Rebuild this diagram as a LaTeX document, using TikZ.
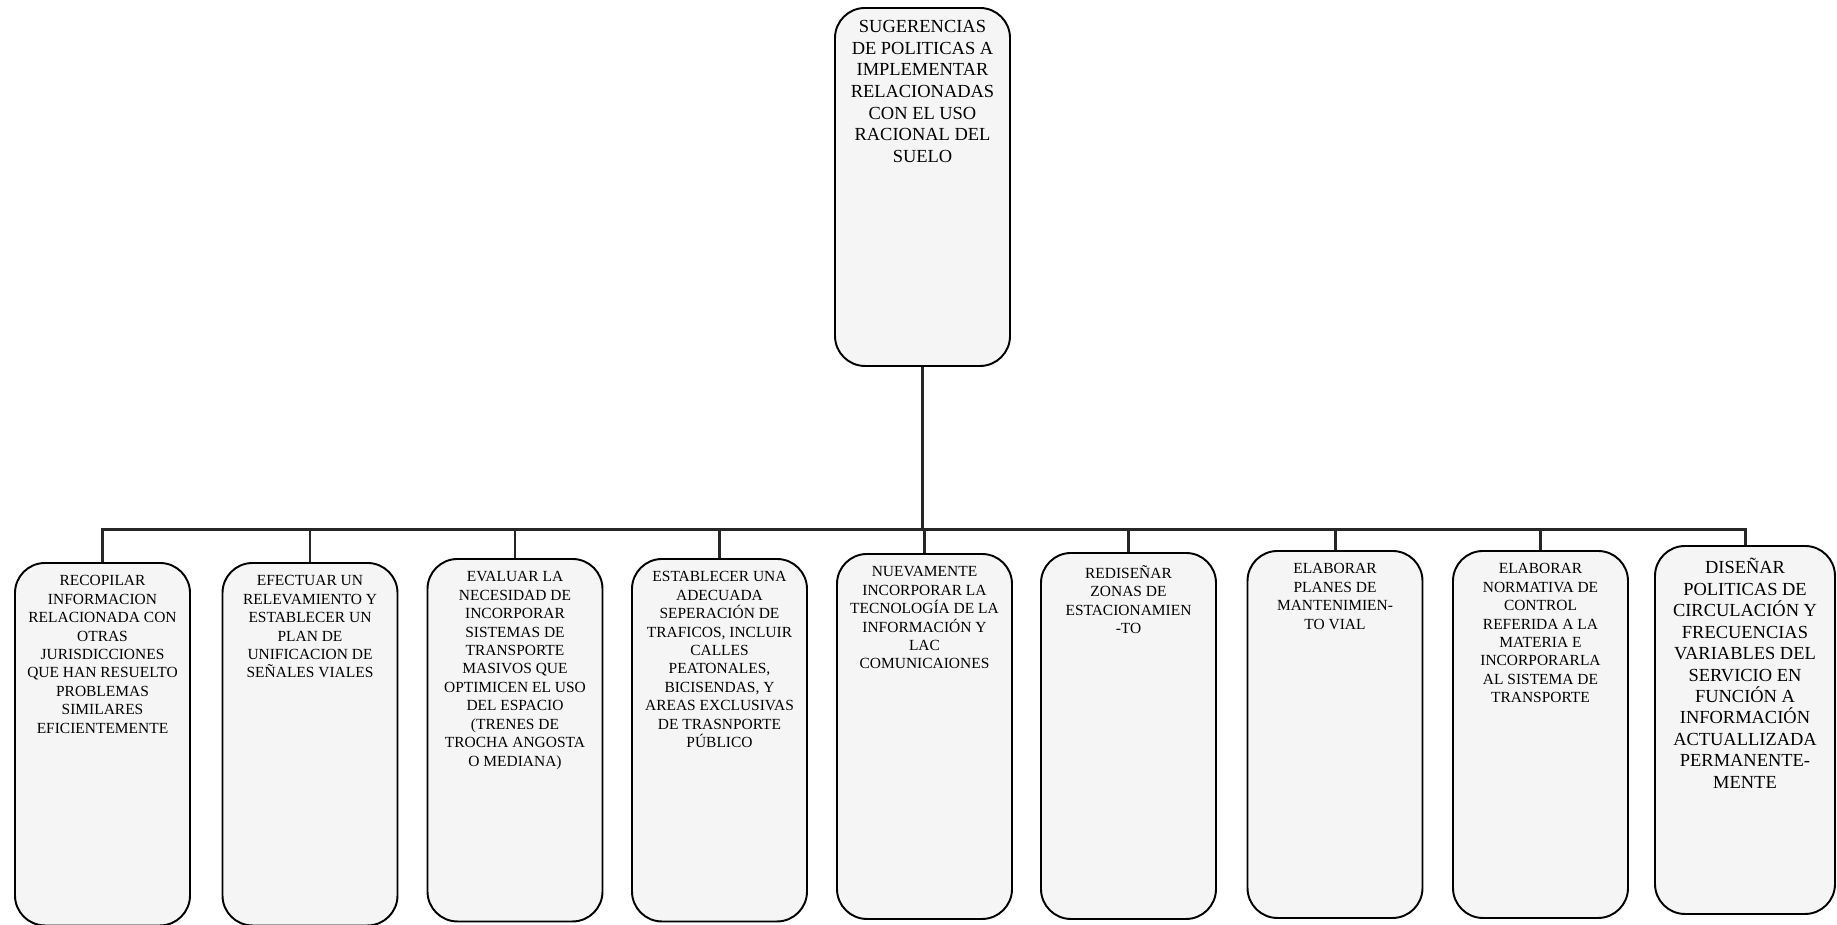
\documentclass[tikz,border=0pt]{standalone}
\usepackage{fontspec}
\setmainfont{Liberation Serif}
\usepackage{tikz}
\usetikzlibrary{positioning}

\newcommand{\txtbox}[3]{\parbox[t][#1][t]{#2}{\centering #3}}

\begin{document}
\begin{tikzpicture}[font=\fontsize{8.8pt}{10.5pt}\selectfont,
    leaf/.style={draw=black, line width=1.1pt, fill=black!4, rounded corners=0.6cm, inner xsep=0.1cm, inner ysep=0.25cm, anchor=north},
    root/.style={leaf, font=\fontsize{10.5pt}{12.3pt}\selectfont},
    conn/.style={draw=black!85, line width=1.7pt}]
  \useasboundingbox (0,0) rectangle (36.74,-18.5);

  % main box
  \node[root] (root) at (18.45,-0.14) {\txtbox{6.66cm}{3.3cm}{SUGERENCIAS\\ DE POLITICAS A\\ IMPLEMENTAR\\ RELACIONADAS\\ CON EL USO\\ RACIONAL DEL\\ SUELO}};

  % policy boxes
  \node[leaf] (l1) at (2.05,-11.24) {\txtbox{6.75cm}{3.3cm}{RECOPILAR\\ INFORMACION\\ RELACIONADA CON\\ OTRAS\\ JURISDICCIONES\\ QUE HAN RESUELTO\\ PROBLEMAS\\ SIMILARES\\ EFICIENTEMENTE}};
  \node[leaf] (l2) at (6.2,-11.24) {\txtbox{6.75cm}{3.3cm}{EFECTUAR UN\\ RELEVAMIENTO Y\\ ESTABLECER UN\\ PLAN DE\\ UNIFICACION DE\\ SEÑALES VIALES}};
  \node[leaf] (l3) at (10.3,-11.16) {\txtbox{6.75cm}{3.3cm}{EVALUAR LA\\ NECESIDAD DE\\ INCORPORAR\\ SISTEMAS DE\\ TRANSPORTE\\ MASIVOS QUE\\ OPTIMICEN EL USO\\ DEL ESPACIO\\ (TRENES DE\\ TROCHA ANGOSTA\\ O MEDIANA)}};
  \node[leaf] (l4) at (14.39,-11.16) {\txtbox{6.75cm}{3.3cm}{ESTABLECER UNA\\ ADECUADA\\ SEPERACIÓN DE\\ TRAFICOS, INCLUIR\\ CALLES\\ PEATONALES,\\ BICISENDAS, Y\\ AREAS EXCLUSIVAS\\ DE TRASNPORTE\\ PÚBLICO}};
  \node[leaf] (l5) at (18.49,-11.06) {\txtbox{6.8cm}{3.3cm}{NUEVAMENTE\\ INCORPORAR LA\\ TECNOLOGÍA DE LA\\ INFORMACIÓN Y\\ LAC\\ COMUNICAIONES}};
  \node[leaf] (l6) at (22.57,-11.04) {\txtbox{6.82cm}{3.3cm}{REDISEÑAR\\ ZONAS DE\\ ESTACIONAMIEN\\ -TO}};
  \node[leaf] (l7) at (26.7,-11.0) {\txtbox{6.84cm}{3.3cm}{ELABORAR\\ PLANES DE\\ MANTENIMIEN-\\ TO VIAL}};
  \node[leaf] (l8) at (30.81,-11.0) {\txtbox{6.84cm}{3.3cm}{ELABORAR\\ NORMATIVA DE\\ CONTROL\\ REFERIDA A LA\\ MATERIA E\\ INCORPORARLA\\ AL SISTEMA DE\\ TRANSPORTE}};
  \node[leaf, font=\fontsize{10.5pt}{12.2pt}\selectfont] (l9) at (34.9,-10.9) {\txtbox{6.86cm}{3.4cm}{DISEÑAR\\ POLITICAS DE\\ CIRCULACIÓN Y\\ FRECUENCIAS\\ VARIABLES DEL\\ SERVICIO EN\\ FUNCIÓN A\\ INFORMACIÓN\\ ACTUALLIZADA\\ PERMANENTE-\\ MENTE}};

  % connectors
  \coordinate (hub) at (18.45,-10.58);
  \draw[conn] (root.south) -- (hub);
  \draw[conn] (l1.north) |- (hub) -| (l9.north);
  \draw[conn] (l2.north) -- (l2.north |- hub);
  \draw[conn] (l3.north) -- (l3.north |- hub);
  \draw[conn] (l4.north) -- (l4.north |- hub);
  \draw[conn] (l5.north) -- (l5.north |- hub);
  \draw[conn] (l6.north) -- (l6.north |- hub);
  \draw[conn] (l7.north) -- (l7.north |- hub);
  \draw[conn] (l8.north) -- (l8.north |- hub);
\end{tikzpicture}
\end{document}
